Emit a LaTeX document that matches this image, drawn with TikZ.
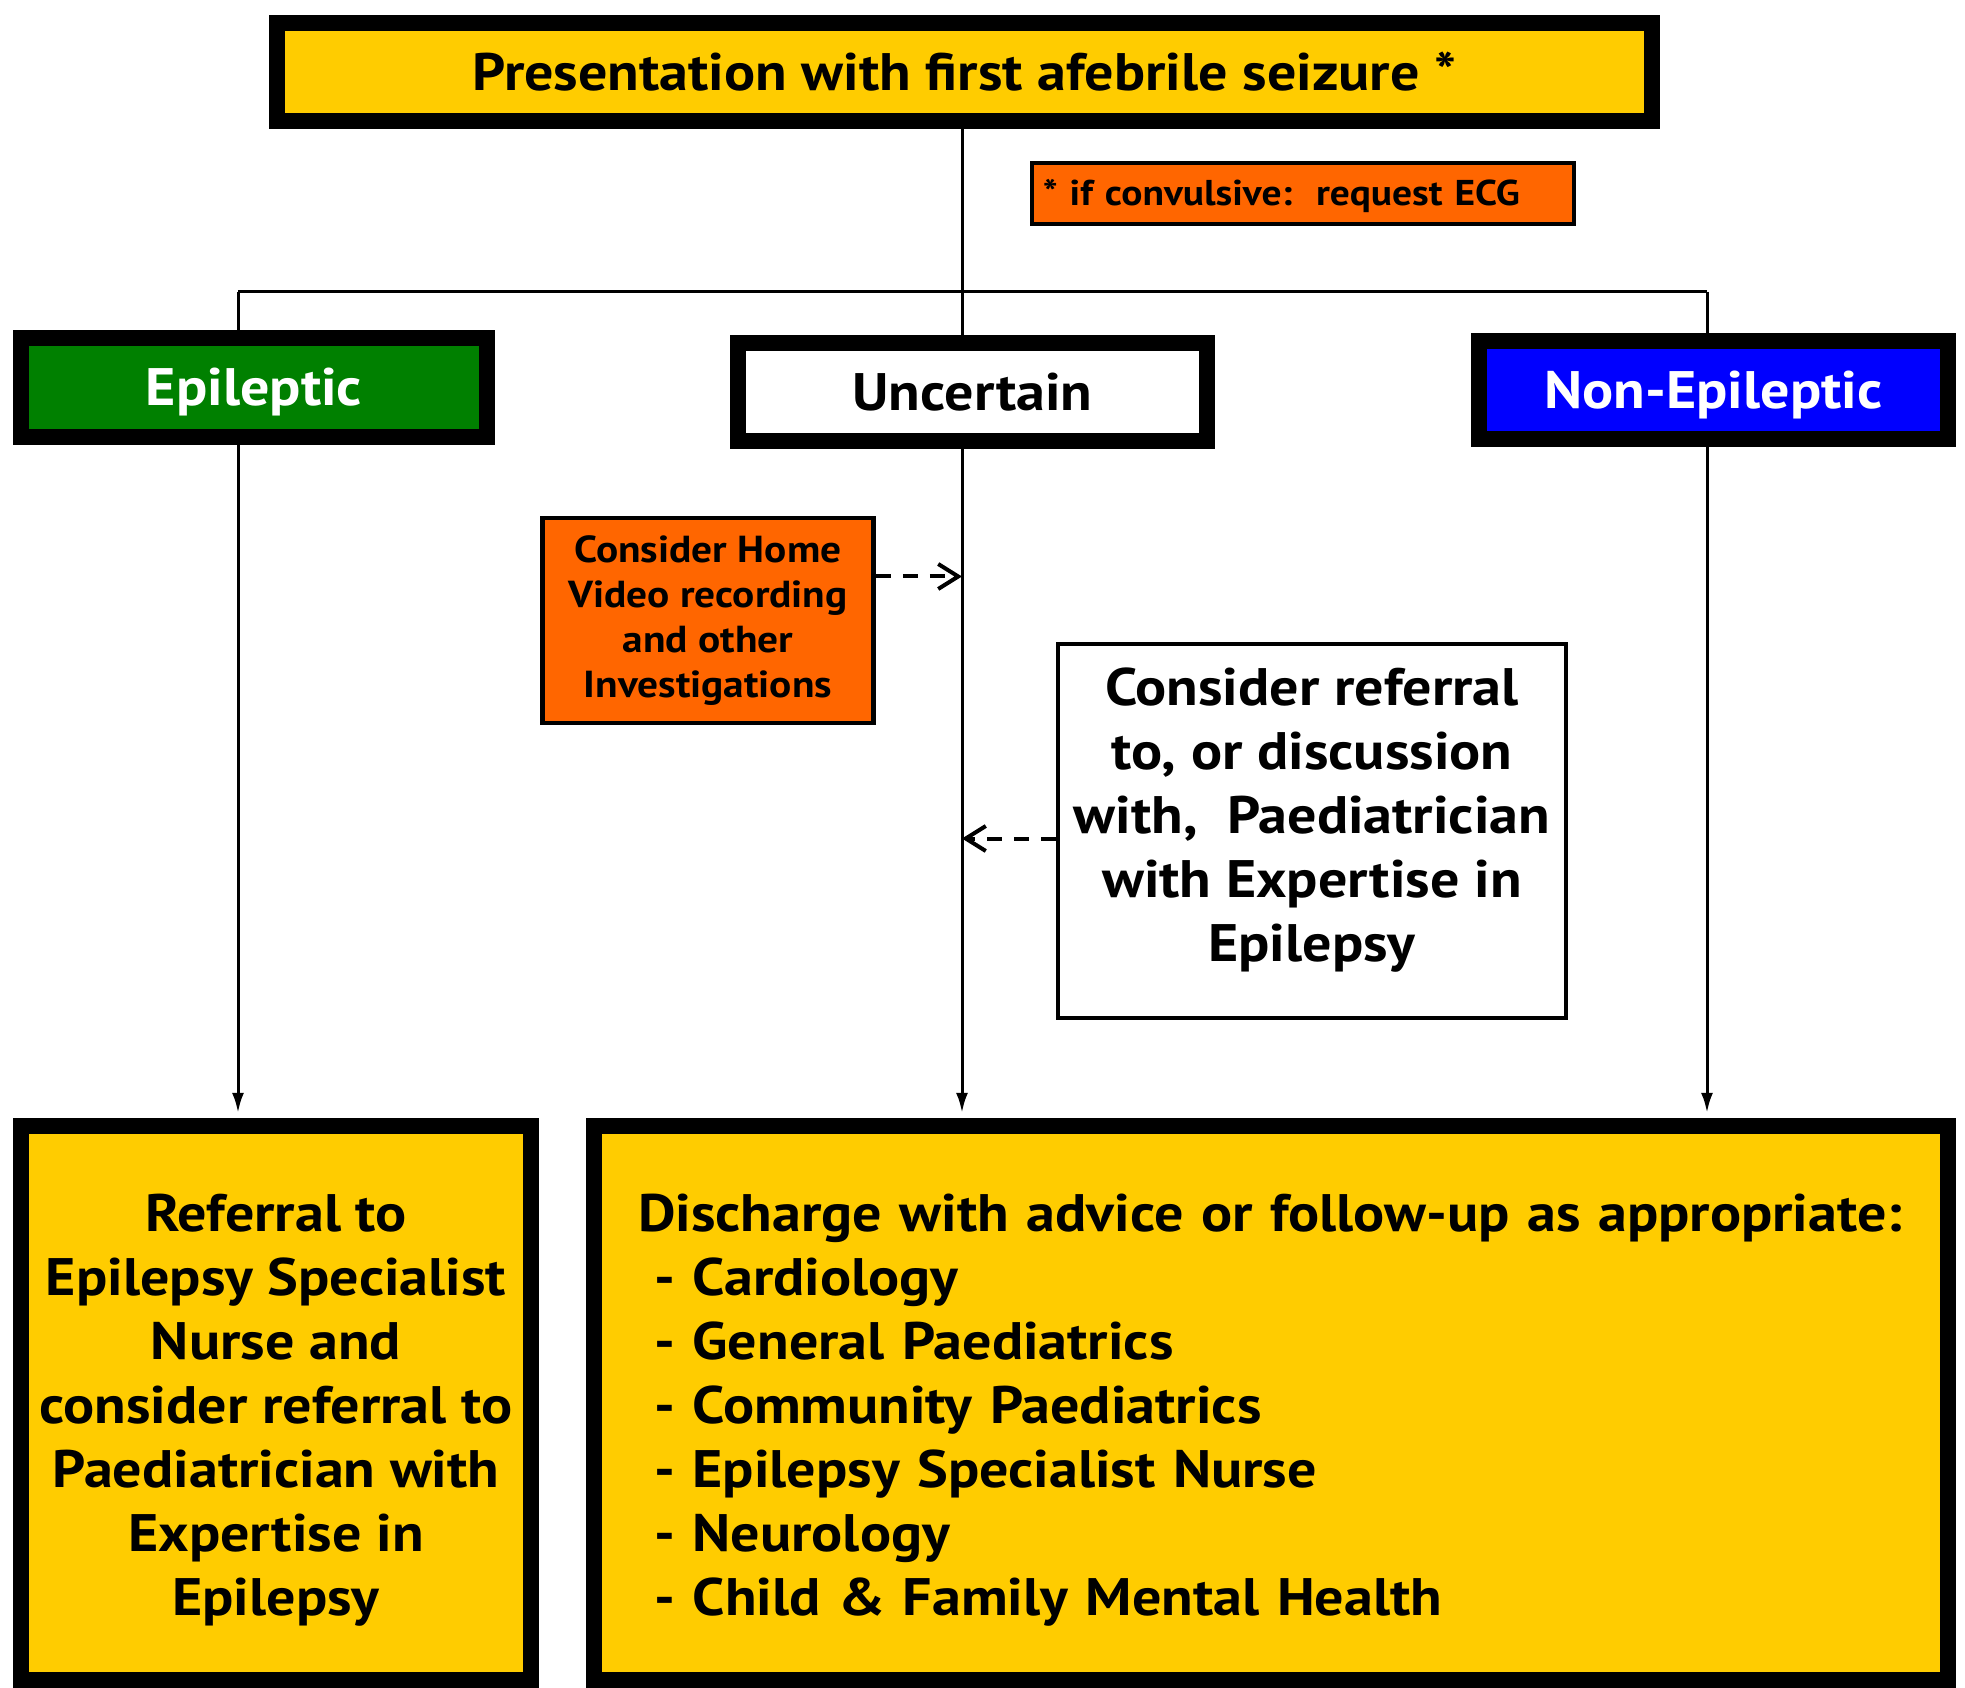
\documentclass[tikz,border=0pt]{standalone}
\usepackage{fontspec}
\setmainfont{PT Sans}[FakeStretch=1.1]
\usetikzlibrary{arrows.meta}
\definecolor{boxyellow}{HTML}{FFCC00}
\definecolor{hintorange}{HTML}{FF6600}
\definecolor{epigreen}{HTML}{008000}
\definecolor{nonblue}{HTML}{0000FF}
\tikzset{
  heavybox/.style={draw,line width=0.16cm,inner sep=0pt,font=\bfseries},
  thinbox/.style={draw,line width=0.045cm,inner sep=0pt,font=\bfseries},
  headtext/.style={font=\fontsize{15pt}{18pt}\selectfont\bfseries,text height=10.5pt,text depth=0pt},
  link/.style={line width=0.03cm},
  down/.style={link,-{Latex[length=0.2cm,width=0.12cm]},shorten >=0.05cm},
  hint/.style={line width=0.04cm,dash pattern=on 0.15cm off 0.12cm,-{Straight Barb[length=0.2cm,width=0.25cm]}},
  bigtext/.style={font=\fontsize{15pt}{18.2pt}\selectfont\bfseries}
}
\begin{document}
\begin{tikzpicture}[x=0.01cm,y=-0.01cm]
\useasboundingbox (0,0) rectangle (1965,1688);
%top of the chart
\node[heavybox,fill=boxyellow,minimum width=13.75cm,minimum height=0.98cm,headtext] (first) at (964.5,72) {Presentation with first afebrile seizure *};
\node[thinbox,fill=hintorange,minimum width=5.42cm,minimum height=0.61cm,text width=5.2cm,align=left,font=\fontsize{10.2pt}{12pt}\selectfont\bfseries,text height=7pt,text depth=0pt] (ecg) at (1303,193.5) {* if convulsive:\ \ request ECG};
%three outcomes
\node[heavybox,fill=epigreen,text=white,minimum width=4.665cm,minimum height=0.99cm,headtext] (epi) at (254,387.5) {Epileptic};
\node[heavybox,fill=white,minimum width=4.68cm,minimum height=0.98cm,headtext] (unc) at (972.5,392) {Uncertain};
\node[heavybox,fill=nonblue,text=white,minimum width=4.69cm,minimum height=0.98cm,headtext] (nonepi) at (1713.5,390) {Non-Epileptic};
\coordinate (fork) at (962,292);
\coordinate (forkL) at (238,292);
\coordinate (forkR) at (1707,292);
\draw[link] (fork |- first.south) -- (fork);
\draw[link] (forkL) -- (forkR);
\draw[link] (forkL) -- (forkL |- epi.north);
\draw[link] (fork) -- (fork |- unc.north);
\draw[link] (forkR) -- (forkR |- nonepi.north);
%side boxes
\node[thinbox,fill=hintorange,minimum width=3.31cm,minimum height=2.05cm,align=center,font=\fontsize{10.7pt}{12.8pt}\selectfont\bfseries] (video) at (708,620.5) {Consider Home\\Video recording\\and other\\Investigations};
\node[thinbox,fill=white,line width=0.04cm,minimum width=5.08cm,minimum height=3.74cm,label={[bigtext,align=center,yshift=0.11cm]center:{Consider referral\\to, or discussion\\with,~ Paediatrician\\with Expertise in\\Epilepsy}}] (expert) at (1312,831) {};
%end points
\node[heavybox,fill=boxyellow,minimum width=5.105cm,minimum height=5.54cm,label={[bigtext,align=center,yshift=-0.075cm]center:{Referral to\\Epilepsy Specialist\\Nurse and\\consider referral to\\Paediatrician with\\Expertise in\\Epilepsy}}] (refer) at (276,1403) {};
\node[heavybox,fill=boxyellow,minimum width=13.525cm,minimum height=5.54cm,label={[bigtext,text width=12.65cm,align=left,yshift=-0.075cm]center:{Discharge with advice or follow-up as appropriate:\\
\hspace*{0.16cm}- Cardiology\\
\hspace*{0.16cm}- General Paediatrics\\
\hspace*{0.16cm}- Community Paediatrics\\
\hspace*{0.16cm}- Epilepsy Specialist Nurse\\
\hspace*{0.16cm}- Neurology\\
\hspace*{0.16cm}- Child \& Family Mental Health}}] (discharge) at (1271,1403) {};
\draw[down] (forkL |- epi.south) -- (forkL |- refer.north);
\draw[down] (fork |- unc.south) -- (fork |- discharge.north);
\draw[down] (forkR |- nonepi.south) -- (forkR |- discharge.north);
\coordinate (hintA) at ([yshift=0.44cm]video.east);
\coordinate (hintB) at ([yshift=-0.075cm]expert.west);
\draw[hint] (hintA) -- (hintA -| fork);
\draw[hint] (hintB) -- (hintB -| fork);
\end{tikzpicture}
\end{document}
